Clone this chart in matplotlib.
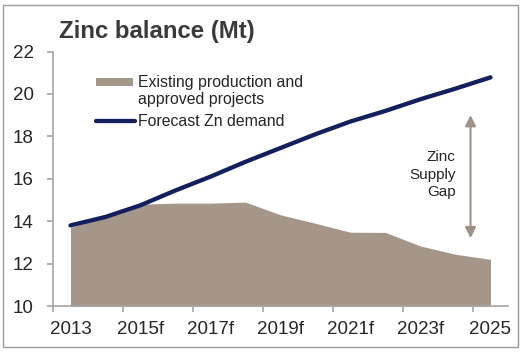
import numpy as np
import matplotlib.pyplot as plt
from matplotlib.patches import Rectangle

plt.rcParams['font.family'] = ['Liberation Sans', 'DejaVu Sans']

years = ['2013', '2014', '2015f', '2016f', '2017f', '2018f', '2019f',
         '2020f', '2021f', '2022f', '2023f', '2024f', '2025']
supply = [13.7, 14.2, 14.8, 14.85, 14.85, 14.9, 14.3, 13.9, 13.48, 13.47, 12.83, 12.44, 12.2]
demand = [13.8, 14.2, 14.75, 15.45, 16.1, 16.8, 17.45, 18.1, 18.7, 19.2, 19.75, 20.25, 20.78]

area_col = '#a4978a'
line_col = '#14205e'
axis_col = '#a6a6a6'
text_col = '#262626'

fig = plt.figure(figsize=(5.21, 3.53), dpi=100)
ax = fig.add_axes([0.1017, 0.1331, 0.8733, 0.721])

x = np.arange(len(years))
ax.fill_between(x, 0, supply, color=area_col, linewidth=0)
ax.plot(x, demand, color=line_col, lw=3.1, solid_capstyle='round')

ax.set_xlim(-0.5, len(years) - 0.5)
ax.set_ylim(10, 22)
ax.set_yticks(range(10, 23, 2))

# labels every second year, tick marks between categories
ax.set_xticks(x[::2])
ax.set_xticklabels(years[::2])
ax.set_xticks(np.arange(-0.5, len(years) - 1, 2), minor=True)
ax.tick_params(axis='x', which='major', length=0, pad=11,
               labelsize=13.5, labelcolor=text_col)
ax.tick_params(axis='x', which='minor', length=4, color=axis_col, width=1.2)
ax.tick_params(axis='y', length=4, color=axis_col, width=1.2, pad=10,
               labelsize=13.5, labelcolor=text_col)

for s in ['top', 'right']:
    ax.spines[s].set_visible(False)
for s in ['left', 'bottom']:
    ax.spines[s].set_color(axis_col)
    ax.spines[s].set_linewidth(1.2)

# supply gap arrow
ax.annotate('', xy=(11.43, 13.2), xytext=(11.43, 19.0),
            arrowprops=dict(arrowstyle='<|-|>', color='#9c9286', lw=1.5,
                            mutation_scale=16, shrinkA=0, shrinkB=0))
ax.text(11.0, 16.2, 'Zinc\nSupply\nGap', ha='right', va='center',
        fontsize=11, color=text_col, linespacing=1.3)

# legend drawn by hand (patch sits on the first text line, like Excel)
ax.add_patch(Rectangle((0.73, 20.38), 1.06, 0.37, color=area_col, lw=0))
ax.plot([0.73, 1.85], [18.73, 18.73], color=line_col, lw=3.1, solid_capstyle='round')
ax.text(1.93, 20.33, 'Existing production and', fontsize=11.4, color=text_col, va='baseline')
ax.text(1.93, 19.53, 'approved projects', fontsize=11.4, color=text_col, va='baseline')
ax.text(1.93, 18.49, 'Forecast Zn demand', fontsize=11.4, color=text_col, va='baseline')

fig.text(0.113, 0.912, 'Zinc balance (Mt)', fontsize=17.3, fontweight='bold',
         color='#3a3a3a', va='center', ha='left')

fig.patches.append(Rectangle((0.006, 0.017), 0.988, 0.97, transform=fig.transFigure,
                             fill=False, edgecolor='#9a9a9a', lw=1))

fig.savefig('out.png', dpi=100)
